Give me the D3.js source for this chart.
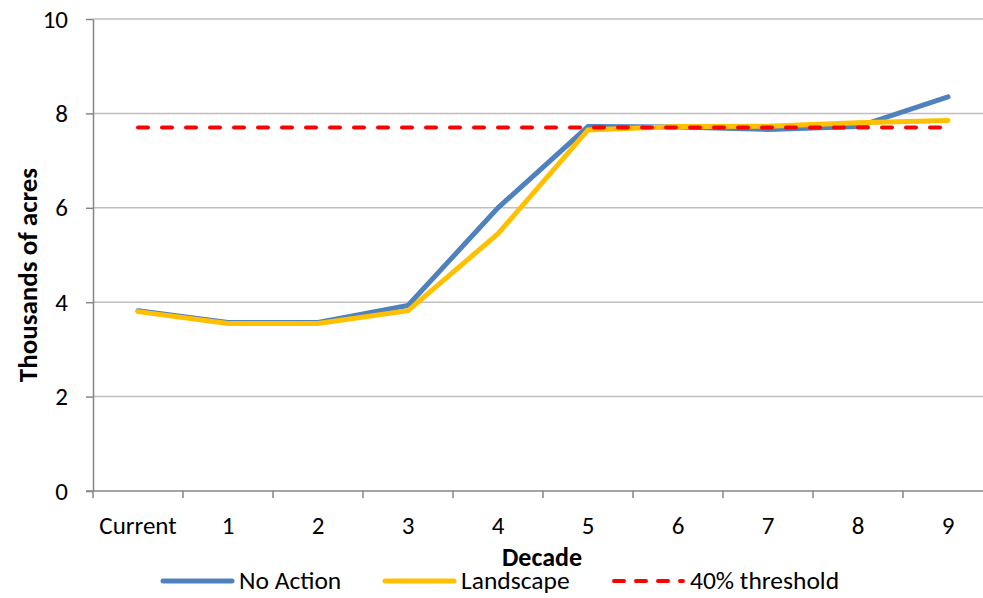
<!DOCTYPE html>
<html>
<head>
    <meta charset="utf-8">
    <title>Decade chart</title>
    <script src="https://d3js.org/d3.v7.min.js"></script>
    <style>
        body { margin: 0; background: #fff; }
        text { font-family: Carlito, "Open Sans", sans-serif; }
    </style>
</head>
<body>
    <script>
        var decades = ["Current", "1", "2", "3", "4", "5", "6", "7", "8", "9"];
        var noAction = [3.82, 3.57, 3.57, 3.93, 6.0, 7.72, 7.71, 7.66, 7.72, 8.35];
        var landscape = [3.8, 3.55, 3.55, 3.82, 5.45, 7.65, 7.72, 7.73, 7.8, 7.85];
        var threshold = [7.7, 7.7, 7.7, 7.7, 7.7, 7.7, 7.7, 7.7, 7.7, 7.7];
        var yTicks = [0, 2, 4, 6, 8, 10];

        var width = 983;
        var height = 598;
        var plotLeft = 93, plotTop = 19, plotBottom = 491, plotRight = 993;

        var svg = d3.select("body").append("svg")
            .attr("width", width)
            .attr("height", height);

        var x = d3.scaleBand()
            .domain(decades)
            .range([plotLeft, plotRight]);

        var y = d3.scaleLinear()
            .domain([0, 10])
            .range([plotBottom, plotTop]);

        // gridlines
        svg.append("g")
            .selectAll("line")
            .data(yTicks.filter(function(d) { return d > 0; }))
            .enter()
            .append("line")
            .attr("x1", plotLeft)
            .attr("x2", width)
            .attr("y1", function(d) { return y(d); })
            .attr("y2", function(d) { return y(d); })
            .style("stroke", "#bfbfbf")
            .style("stroke-width", 1.5);

        // y axis
        var yAxis = svg.append("g")
            .attr("transform", "translate(" + plotLeft + ",0)")
            .call(d3.axisLeft(y).tickValues(yTicks).tickSize(7).tickSizeOuter(0).tickPadding(18));
        yAxis.select(".domain").style("stroke", "#868686").style("stroke-width", 1.5);
        yAxis.selectAll(".tick line").style("stroke", "#868686").style("stroke-width", 1.5);
        yAxis.selectAll(".tick text")
            .style("font-size", "25px")
            .style("fill", "#000");

        // x axis
        var xAxis = svg.append("g")
            .attr("transform", "translate(0," + plotBottom + ")")
            .call(d3.axisBottom(x).tickSize(0).tickPadding(24));
        xAxis.select(".domain").remove();
        xAxis.append("line")
            .attr("x1", plotLeft - 7)
            .attr("x2", width)
            .style("stroke", "#868686")
            .style("stroke-width", 1.5);
        xAxis.selectAll(".sep")
            .data(decades)
            .enter()
            .append("line")
            .attr("class", "sep")
            .attr("x1", function(d) { return x(d); })
            .attr("x2", function(d) { return x(d); })
            .attr("y1", 0)
            .attr("y2", 7)
            .style("stroke", "#868686")
            .style("stroke-width", 1.5);
        xAxis.selectAll(".tick text")
            .attr("dy", null)
            .attr("y", 43)
            .style("font-size", "25px")
            .style("fill", "#000");

        var line = d3.line()
            .x(function(d, i) { return x(decades[i]) + x.bandwidth() / 2; })
            .y(function(d) { return y(d); });

        svg.append("path")
            .datum(noAction)
            .attr("d", line)
            .style("fill", "none")
            .style("stroke", "#4f81bd")
            .style("stroke-width", 5)
            .style("stroke-linecap", "round");

        svg.append("path")
            .datum(landscape)
            .attr("d", line)
            .style("fill", "none")
            .style("stroke", "#ffc000")
            .style("stroke-width", 5)
            .style("stroke-linecap", "round");

        svg.append("path")
            .datum(threshold)
            .attr("d", line)
            .style("fill", "none")
            .style("stroke", "#ff0000")
            .style("stroke-width", 4)
            .style("stroke-linecap", "round")
            .style("stroke-dasharray", "10,14");

        // axis titles
        svg.append("text")
            .attr("x", 542)
            .attr("y", 566)
            .attr("text-anchor", "middle")
            .style("font-size", "26px")
            .style("font-weight", "bold")
            .text("Decade");

        svg.append("text")
            .attr("transform", "translate(37,275)rotate(-90)")
            .attr("text-anchor", "middle")
            .style("font-size", "27px")
            .style("font-weight", "bold")
            .text("Thousands of acres");

        // legend
        var legend = [
            { name: "No Action", color: "#4f81bd", dash: null, x: 163 },
            { name: "Landscape", color: "#ffc000", dash: null, x: 385 },
            { name: "40% threshold", color: "#ff0000", dash: "10,12", x: 614 }
        ];
        var lg = svg.append("g");
        legend.forEach(function(d) {
            lg.append("line")
                .attr("x1", d.x)
                .attr("x2", d.x + 69)
                .attr("y1", 581)
                .attr("y2", 581)
                .style("stroke", d.color)
                .style("stroke-width", d.dash ? 4 : 5)
                .style("stroke-linecap", "round")
                .style("stroke-dasharray", d.dash);
            lg.append("text")
                .attr("x", d.x + 76)
                .attr("y", 589)
                .style("font-size", "25.5px")
                .text(d.name);
        });
    </script>
</body>
</html>
